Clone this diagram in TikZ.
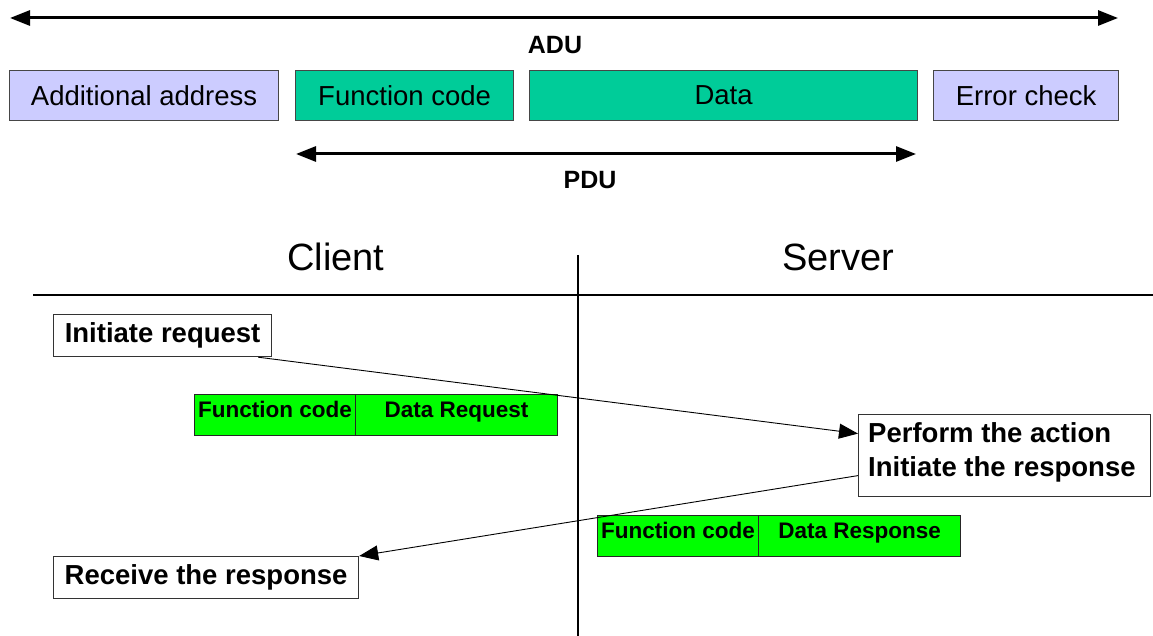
\documentclass[tikz,border=0pt]{standalone}
\usepackage{fontspec}
\setmainfont{Liberation Sans}
\usetikzlibrary{arrows.meta}
\definecolor{lav}{RGB}{204,204,255}
\definecolor{teal2}{RGB}{0,204,153}
\definecolor{grn}{RGB}{0,255,0}
\definecolor{bordergray}{RGB}{70,70,70}
\begin{document}
\begin{tikzpicture}[x=1pt,y=-1pt,
  topbox/.style={draw=bordergray,line width=1.2pt,inner sep=0pt,minimum height=50pt,anchor=north west,font=\fontsize{27.5}{30}\selectfont},
  bigarrow/.style={line width=3pt,{Triangle[length=20pt,width=15pt]}-{Triangle[length=20pt,width=15pt]}},
  wbox/.style={draw=black!80,line width=1.2pt,fill=white,inner sep=0pt,anchor=north west,font=\bfseries\fontsize{27.5}{34}\selectfont},
  gbox/.style={draw=black!85,line width=1.2pt,fill=grn,inner sep=0pt,minimum height=41pt,anchor=north west},
  gtxt/.style={inner sep=0pt,text height=16pt,text depth=5pt,font=\bfseries\fontsize{22.5}{24}\selectfont},
  conn/.style={line width=0.9pt,-{Triangle[length=19pt,width=15pt]}},
  lbl/.style={inner sep=0pt,font=\bfseries\fontsize{25}{28}\selectfont},
  head/.style={inner sep=0pt,font=\fontsize{38}{42}\selectfont}
]
\useasboundingbox (0,0) rectangle (1153,636);

% ADU
\coordinate (adul) at (10,18);
\coordinate (adur) at (1118,18);
\draw[bigarrow] (adul) -- (adur);
\node[lbl] (adu) at (555,45) {ADU};

% top boxes
\node[topbox,fill=lav,minimum width=269pt] (addr) at (9,70) {Additional address};
\node[topbox,fill=teal2,minimum width=218pt] (func) at (295,70) {Function code};
\node[topbox,fill=teal2,minimum width=388pt] (data) at (529,70) {Data};
\node[topbox,fill=lav,minimum width=185pt] (err) at (933,70) {Error check};

% PDU
\coordinate (pdul) at (296,154);
\coordinate (pdur) at (916,154);
\draw[bigarrow] (pdul) -- (pdur);
\node[lbl] (pdu) at (590,180) {PDU};

% headers and lines
\node[head] (client) at (336,257) {Client};
\node[head] (server) at (838,257) {Server};
\coordinate (hl) at (33,295);
\coordinate (hr) at (1153,295);
\coordinate (vt) at (578,255);
\coordinate (vb) at (578,636);
\draw[line width=1.2pt] (hl) -- (hr);
\draw[line width=1.2pt] (vt) -- (vb);

% client / server boxes
\node[wbox,minimum width=218pt,minimum height=42pt] (init) at (53,314) {Initiate request};
\node[wbox,minimum width=292pt,minimum height=82pt] (perf) at (858,414) {};
\node[inner sep=0pt,anchor=north west,align=left,font=\bfseries\fontsize{27.5}{34}\selectfont] (perft) at ([xshift=10pt,yshift=-8pt]perf.north west) {Perform the action\\Initiate the response};
\node[wbox,minimum width=305pt,minimum height=42pt] (recv) at (53,556) {Receive the response};

% request PDU
\node[gbox,minimum width=161pt] (rq1) at (194,394) {};
\node[gbox,minimum width=202pt] (rq2) at (355,394) {};
\node[gtxt] (rq1t) at ([yshift=3pt]rq1.center) {Function code};
\node[gtxt] (rq2t) at ([yshift=3pt]rq2.center) {Data Request};

% response PDU
\node[gbox,minimum width=161pt] (rs1) at (597,515) {};
\node[gbox,minimum width=202pt] (rs2) at (758,515) {};
\node[gtxt] (rs1t) at ([yshift=3pt]rs1.center) {Function code};
\node[gtxt] (rs2t) at ([yshift=3pt]rs2.center) {Data Response};

% connectors
\draw[conn] ([xshift=-14pt]init.south east) -- ([yshift=22pt]perf.west);
\draw[conn] ([yshift=-20pt]perf.west) -- (recv.north east);
\end{tikzpicture}
\end{document}
